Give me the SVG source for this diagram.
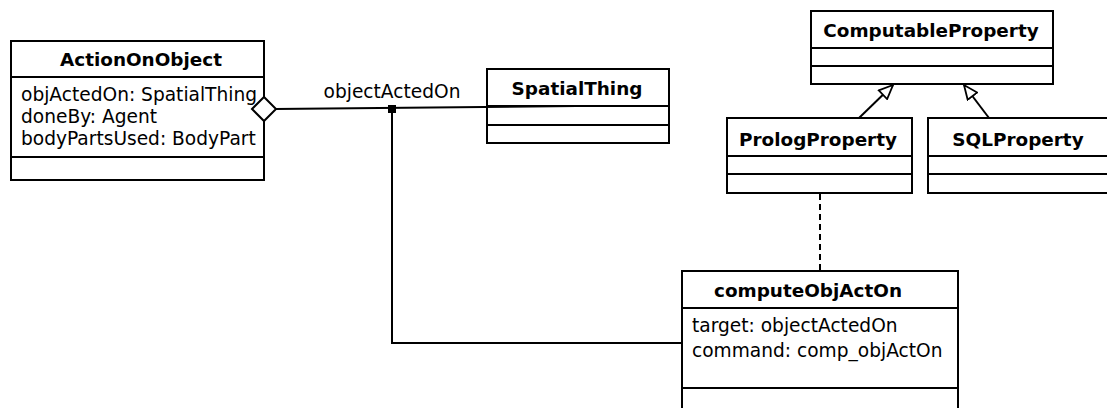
<svg xmlns="http://www.w3.org/2000/svg" width="1107" height="408" viewBox="0 0 1107 408">
  <defs>
    <style>
      .box { fill: #ffffff; stroke: #000000; stroke-width: 2; }
      .sep { stroke: #000000; stroke-width: 2; }
      .title { font-family: "DejaVu Sans", sans-serif; font-weight: bold; font-size: 18.4px; fill: #000000; }
      .attr { font-family: "DejaVu Sans", sans-serif; font-size: 18.6px; fill: #000000; }
      .edge { fill: none; stroke: #000000; stroke-width: 2; }
      .dash { stroke-dasharray: 6 4; }
    </style>
    <!-- hollow triangle for generalization -->
    <marker id="gen" viewBox="0 0 16 14" refX="15" refY="7" markerWidth="16" markerHeight="14" markerUnits="userSpaceOnUse" orient="auto">
      <path d="M1,1 L15,7 L1,13 Z" fill="#ffffff" stroke="#000000" stroke-width="1.8"/>
    </marker>
  </defs>
  <rect width="1107" height="408" fill="#ffffff"/>

  <g id="ActionOnObject">
    <rect class="box" x="11" y="41" width="253" height="139"/>
    <line class="sep" x1="11" y1="77" x2="264" y2="77"/>
    <line class="sep" x1="11" y1="157" x2="264" y2="157"/>
    <text class="title" x="141" y="66" text-anchor="middle">ActionOnObject</text>
    <text class="attr" x="21" y="101">objActedOn: SpatialThing</text>
    <text class="attr" x="21" y="123">doneBy: Agent</text>
    <text class="attr" x="21" y="145">bodyPartsUsed: BodyPart</text>
  </g>

  <g id="SpatialThing">
    <rect class="box" x="487" y="69" width="182" height="74"/>
    <line class="sep" x1="487" y1="106" x2="669" y2="106"/>
    <line class="sep" x1="487" y1="125" x2="669" y2="125"/>
    <text class="title" x="577" y="95" text-anchor="middle">SpatialThing</text>
  </g>

  <g id="ComputableProperty">
    <rect class="box" x="811" y="11" width="242" height="73"/>
    <line class="sep" x1="811" y1="48" x2="1053" y2="48"/>
    <line class="sep" x1="811" y1="66" x2="1053" y2="66"/>
    <text class="title" x="931" y="37" text-anchor="middle">ComputableProperty</text>
  </g>

  <g id="PrologProperty">
    <rect class="box" x="727" y="118" width="185" height="75"/>
    <line class="sep" x1="727" y1="156" x2="912" y2="156"/>
    <line class="sep" x1="727" y1="174" x2="912" y2="174"/>
    <text class="title" x="818" y="146" text-anchor="middle">PrologProperty</text>
  </g>

  <g id="SQLProperty">
    <rect class="box" x="928" y="118" width="190" height="75"/>
    <line class="sep" x1="928" y1="156" x2="1118" y2="156"/>
    <line class="sep" x1="928" y1="174" x2="1118" y2="174"/>
    <text class="title" x="1018" y="146" text-anchor="middle">SQLProperty</text>
  </g>

  <g id="computeObjActOn">
    <rect class="box" x="682" y="271" width="276" height="150"/>
    <line class="sep" x1="682" y1="308" x2="958" y2="308"/>
    <line class="sep" x1="682" y1="388" x2="958" y2="388"/>
    <text class="title" x="714" y="297">computeObjActOn</text>
    <text class="attr" x="692" y="332">target: objectActedOn</text>
    <text class="attr" x="692" y="357">command: comp_objActOn</text>
  </g>

  <!-- connectors, drawn over the class boxes -->
  <g id="connectors">
    <!-- aggregation: ActionOnObject to SpatialThing -->
    <line class="edge" x1="275" y1="109" x2="577" y2="106"/>
    <polygon points="252,109 264,97 276,109 264,121" fill="#ffffff" stroke="#000000" stroke-width="2"/>
    <text class="attr" x="392" y="98" text-anchor="middle">objectActedOn</text>
    <!-- association class link -->
    <rect x="388" y="105" width="8" height="8" fill="#000000"/>
    <polyline class="edge" points="392,109 392,343 682,343"/>
    <!-- generalizations -->
    <line class="edge" x1="859" y1="118" x2="893" y2="85" marker-end="url(#gen)"/>
    <line class="edge" x1="989" y1="118" x2="964" y2="85" marker-end="url(#gen)"/>
    <!-- dependency -->
    <line class="edge dash" x1="820" y1="194" x2="820" y2="271"/>
  </g>
</svg>
